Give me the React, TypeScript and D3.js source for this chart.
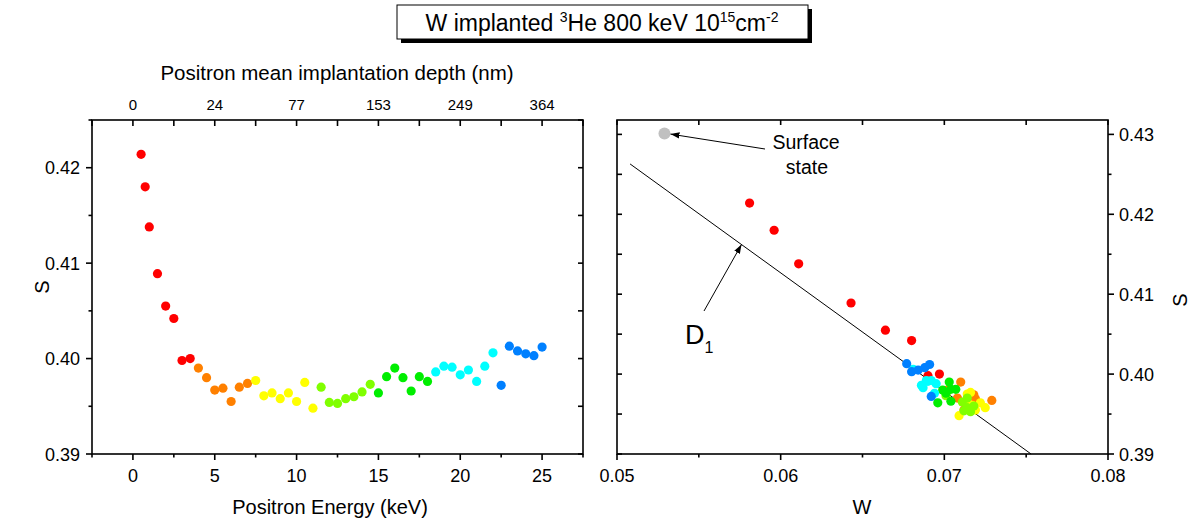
import React from "react";
import * as d3 from "d3";

// ---------- data ----------
const energy = [0.5, 0.75, 1, 1.5, 2, 2.5, 3, 3.5, 4, 4.5, 5, 5.5, 6, 6.5, 7, 7.5, 8, 8.5, 9, 9.5, 10, 10.5, 11, 11.5, 12, 12.5, 13, 13.5, 14, 14.5, 15, 15.5, 16, 16.5, 17, 17.5, 18, 18.5, 19, 19.5, 20, 20.5, 21, 21.5, 22, 22.5, 23, 23.5, 24, 24.5, 25];
const sParam = [0.4214, 0.418, 0.4138, 0.4089, 0.4055, 0.4042, 0.3998, 0.4, 0.399, 0.398, 0.3967, 0.3969, 0.3955, 0.397, 0.3974, 0.3977, 0.3961, 0.3964, 0.3958, 0.3964, 0.3955, 0.3975, 0.3948, 0.397, 0.3954, 0.3953, 0.3958, 0.396, 0.3965, 0.3973, 0.3964, 0.3981, 0.399, 0.398, 0.3966, 0.3981, 0.3976, 0.3986, 0.3992, 0.3991, 0.3983, 0.3988, 0.3976, 0.3992, 0.4006, 0.3972, 0.4013, 0.4008, 0.4005, 0.4003, 0.4012];
const wParam = [0.0581, 0.0596, 0.0611, 0.0643, 0.0664, 0.068, 0.069, 0.0697, 0.071, 0.0702, 0.0729, 0.0719, 0.0712, 0.0708, 0.0718, 0.0716, 0.0717, 0.0722, 0.0725, 0.0714, 0.0719, 0.0714, 0.0709, 0.0714, 0.0712, 0.0716, 0.0714, 0.0718, 0.0711, 0.0701, 0.0696, 0.0704, 0.0703, 0.0699, 0.0704, 0.0707, 0.0701, 0.0686, 0.0692, 0.069, 0.0687, 0.0695, 0.0694, 0.0689, 0.0681, 0.0692, 0.0677, 0.0688, 0.0684, 0.068, 0.0691];
const groupSizes = [8, 7, 8, 7, 7, 8, 6];
const palette = ["#ff0000", "#ff8000", "#ffff00", "#80ff00", "#00ee00", "#00ffff", "#0080ff"];

const energyTicks = [0, 5, 10, 15, 20, 25];
const energyMinor = [-2.5, 2.5, 7.5, 12.5, 17.5, 22.5, 27.5];
const depthLabels = ["0", "24", "77", "153", "249", "364"];
const sTicksLeft = [0.39, 0.4, 0.41, 0.42];
const sMinorLeft = [0.395, 0.405, 0.415, 0.425];
const wTicks = [0.05, 0.06, 0.07, 0.08];
const wMinor = [0.055, 0.065, 0.075];
const sTicksRight = [0.39, 0.4, 0.41, 0.42, 0.43];
const sMinorRight = [0.395, 0.405, 0.415, 0.425];

const surfaceW = 0.0529;
const surfaceS = 0.4301;
const lineW = [0.0508, 0.0753];
const lineS = [0.4263, 0.39];

// ---------- layout ----------
const FONT = "'Liberation Sans', Arial, sans-serif";
const groupIndex: number[] = [];
groupSizes.forEach((n, g) => { for (let i = 0; i < n; i++) groupIndex.push(g); });

const xL = d3.scaleLinear().domain([-2.5, 27.5]).range([92, 583]);
const yL = d3.scaleLinear().domain([0.39, 0.425]).range([454, 120]);
const xR = d3.scaleLinear().domain([0.05, 0.08]).range([617, 1108]);
const yR = d3.scaleLinear().domain([0.39, 0.4318]).range([454, 120]);

const fmt2 = d3.format(".2f");

export default function App() {
  const pts = energy.map((e, i) => ({ e, s: sParam[i], w: wParam[i], g: groupIndex[i] }));
  const lineGen = d3.line<number>().x((_, i) => xR(lineW[i])).y((d) => yR(d));
  const sw = 1.6;
  const L = { x0: xL.range()[0], x1: xL.range()[1], y0: yL.range()[1], y1: yL.range()[0] };
  const R = { x0: xR.range()[0], x1: xR.range()[1], y0: yR.range()[1], y1: yR.range()[0] };
  const leftAllS = [...sTicksLeft, ...sMinorLeft];
  const rightAllS = [...sTicksRight, ...sMinorRight];
  const TF = 18;

  return (
    <div style={{ position: "absolute", left: 0, top: 0 }}>
      <svg width={1195} height={520} style={{ display: "block", background: "#fff" }} fontFamily={FONT}>
        <defs>
          <marker id="arr" viewBox="0 0 10 10" refX="10" refY="5" markerWidth="9" markerHeight="9" orient="auto-start-reverse" markerUnits="userSpaceOnUse">
            <path d="M0,1.5 L10,5 L0,8.5 Z" fill="#000" />
          </marker>
        </defs>

        {/* title box */}
        <rect x={401} y={9} width={411} height={34} fill="#000" />
        <rect x={397} y={5} width={411} height={34} fill="#fff" stroke="#000" strokeWidth={1} />
        <text x={602} y={31} textAnchor="middle" fontSize={23}>
          W implanted <tspan fontSize={14} dy={-9}>3</tspan><tspan dy={9}>He 800 keV 10</tspan><tspan fontSize={14} dy={-9}>15</tspan><tspan dy={9}>cm</tspan><tspan fontSize={14} dy={-9}>-2</tspan>
        </text>

        {/* ---------- left panel ---------- */}
        <text x={337} y={80} textAnchor="middle" fontSize={20.5}>Positron mean implantation depth (nm)</text>
        {energyTicks.map((t, i) => (
          <text key={"dl" + t} x={xL(t)} y={110} textAnchor="middle" fontSize={15}>{depthLabels[i]}</text>
        ))}
        {/* bottom ticks (outward) */}
        {energyTicks.map((t) => (
          <g key={"bt" + t}>
            <line x1={xL(t)} x2={xL(t)} y1={L.y1} y2={L.y1 + 6} stroke="#000" strokeWidth={sw} />
            <text x={xL(t)} y={482} textAnchor="middle" fontSize={TF}>{t}</text>
          </g>
        ))}
        {energyMinor.map((t) => (
          <line key={"bm" + t} x1={xL(t)} x2={xL(t)} y1={L.y1} y2={L.y1 + 3.5} stroke="#000" strokeWidth={sw} />
        ))}
        {/* top ticks (inward) */}
        {[...energyTicks, ...energyMinor].map((t) => (
          <line key={"tt" + t} x1={xL(t)} x2={xL(t)} y1={L.y0} y2={L.y0 + 6} stroke="#000" strokeWidth={sw} />
        ))}
        {/* left ticks (outward) */}
        {sTicksLeft.map((t) => (
          <g key={"lt" + t}>
            <line x1={L.x0 - 6} x2={L.x0} y1={yL(t)} y2={yL(t)} stroke="#000" strokeWidth={sw} />
            <text x={80} y={yL(t) + 6.5} textAnchor="end" fontSize={TF}>{fmt2(t)}</text>
          </g>
        ))}
        {sMinorLeft.map((t) => (
          <line key={"lm" + t} x1={L.x0 - 3.5} x2={L.x0} y1={yL(t)} y2={yL(t)} stroke="#000" strokeWidth={sw} />
        ))}
        {/* right ticks (inward) */}
        {leftAllS.map((t) => (
          <line key={"rt" + t} x1={L.x1 - 5} x2={L.x1} y1={yL(t)} y2={yL(t)} stroke="#000" strokeWidth={sw} />
        ))}
        <rect x={L.x0} y={L.y0} width={L.x1 - L.x0} height={L.y1 - L.y0} fill="none" stroke="#000" strokeWidth={sw} />
        <text x={330} y={514} textAnchor="middle" fontSize={20}>Positron Energy (keV)</text>
        <text transform={`translate(49,287) rotate(-90)`} textAnchor="middle" fontSize={20}>S</text>
        {pts.map((p, i) => (
          <circle key={"lp" + i} cx={xL(p.e)} cy={yL(p.s)} r={4.6} fill={palette[p.g]} />
        ))}

        {/* ---------- right panel ---------- */}
        {wTicks.map((t) => (
          <g key={"rbt" + t}>
            <line x1={xR(t)} x2={xR(t)} y1={R.y1} y2={R.y1 + 6} stroke="#000" strokeWidth={sw} />
            <text x={xR(t)} y={482} textAnchor="middle" fontSize={TF}>{fmt2(t)}</text>
          </g>
        ))}
        {wMinor.map((t) => (
          <line key={"rbm" + t} x1={xR(t)} x2={xR(t)} y1={R.y1} y2={R.y1 + 3.5} stroke="#000" strokeWidth={sw} />
        ))}
        {[...wTicks, ...wMinor].map((t) => (
          <line key={"rtt" + t} x1={xR(t)} x2={xR(t)} y1={R.y0} y2={R.y0 + 5} stroke="#000" strokeWidth={sw} />
        ))}
        {rightAllS.map((t) => (
          <line key={"rl" + t} x1={R.x0} x2={R.x0 + 5} y1={yR(t)} y2={yR(t)} stroke="#000" strokeWidth={sw} />
        ))}
        {sTicksRight.map((t) => (
          <g key={"rr" + t}>
            <line x1={R.x1} x2={R.x1 + 6} y1={yR(t)} y2={yR(t)} stroke="#000" strokeWidth={sw} />
            <text x={1119} y={yR(t) + 6.5} textAnchor="start" fontSize={TF}>{fmt2(t)}</text>
          </g>
        ))}
        {sMinorRight.map((t) => (
          <line key={"rrm" + t} x1={R.x1} x2={R.x1 + 3.5} y1={yR(t)} y2={yR(t)} stroke="#000" strokeWidth={sw} />
        ))}
        <rect x={R.x0} y={R.y0} width={R.x1 - R.x0} height={R.y1 - R.y0} fill="none" stroke="#000" strokeWidth={sw} />
        <text x={862} y={514} textAnchor="middle" fontSize={20}>W</text>
        <text transform={`translate(1187,300) rotate(-90)`} textAnchor="middle" fontSize={20}>S</text>

        {/* D1 line */}
        <path d={lineGen(lineS) || ""} fill="none" stroke="#000" strokeWidth={1} />
        {/* surface point */}
        <circle cx={xR(surfaceW)} cy={yR(surfaceS)} r={6} fill="#c0c0c0" />
        {/* points */}
        {pts.map((p, i) => (
          <circle key={"rp" + i} cx={xR(p.w)} cy={yR(p.s)} r={4.6} fill={palette[p.g]} />
        ))}

        {/* annotations */}
        <line x1={765} y1={149} x2={xR(surfaceW) + 6} y2={yR(surfaceS) + 0.5} stroke="#000" strokeWidth={1} markerEnd="url(#arr)" />
        <text x={806} y={149} textAnchor="middle" fontSize={19.5}>Surface</text>
        <text x={807} y={174} textAnchor="middle" fontSize={19.5}>state</text>
        <line x1={704} y1={311} x2={741.5} y2={244.5} stroke="#000" strokeWidth={1} markerEnd="url(#arr)" />
        <text x={685} y={344} fontSize={27}>D<tspan fontSize={16} dy={9}>1</tspan></text>
      </svg>
    </div>
  );
}
